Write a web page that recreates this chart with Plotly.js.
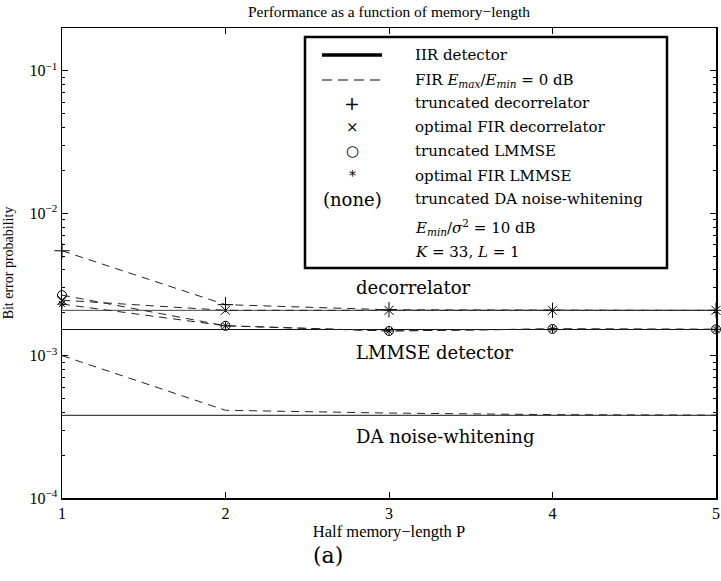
<!DOCTYPE html>
<html>
<head>
<meta charset="utf-8">
<script src="https://cdn.plot.ly/plotly-3.0.1.min.js"></script>
<style>html,body{margin:0;padding:0;background:#fff}</style>
</head>
<body>
<div id="chart" style="width:721px;height:581px"></div>
<script>
// Half memory-length P on the x axis
const halfMemory = [1, 2, 3, 4, 5];

// FIR detectors, Emax/Emin = 0 dB (bit error probability)
const truncDecorrelator  = [5.45e-3, 2.28e-3, 2.10e-3, 2.08e-3, 2.08e-3];
const optFirDecorrelator = [2.45e-3, 2.08e-3, 2.08e-3, 2.08e-3, 2.08e-3];
const truncLmmse         = [2.66e-3, 1.62e-3, 1.49e-3, 1.54e-3, 1.53e-3];
const optFirLmmse        = [2.30e-3, 1.62e-3, 1.49e-3, 1.54e-3, 1.53e-3];
const truncDaWhitening   = [1.00e-3, 4.13e-4, 3.95e-4, 3.85e-4, 3.82e-4];

// IIR detectors (independent of P)
const iirDecorrelator = 2.08e-3;
const iirLmmse        = 1.525e-3;
const iirDaWhitening  = 3.81e-4;

// Axis ticks
const xTicks = [1, 2, 3, 4, 5];
const yDecades = [1e-4, 1e-3, 1e-2, 1e-1];
const yDecadeLabels = ['10<sup>−4</sup>', '10<sup>−3</sup>', '10<sup>−2</sup>', '10<sup>−1</sup>'];

const yMinor = [];
yDecades.forEach(d => { for (let k = 2; k <= 9; k++) { if (k * d < 0.2) yMinor.push(k * d); } });

const SERIF = 'Liberation Serif, Times New Roman, serif';
const CM = 'DejaVu Serif, serif';

// plot area in pixels: x 62..716, y 28..498
const L = 62, R = 716, T = 28, B = 498;
const px = v => (v - L) / (R - L);
const py = v => (B - v) / (B - T);

const dashed = {color: '#222', width: 1, dash: '8px,6px'};
const markerBase = {color: '#000', line: {color: '#000', width: 1}};

const iirLine = (level, color) => ({
  x: [halfMemory[0], halfMemory[halfMemory.length - 1]],
  y: [level, level],
  mode: 'lines', line: {color: color, width: 1}, hoverinfo: 'skip'
});

const traces = [
  iirLine(iirDecorrelator, '#444'),
  iirLine(iirLmmse, '#111'),
  iirLine(iirDaWhitening, '#111'),
  {x: halfMemory, y: truncDaWhitening, mode: 'lines', line: dashed},
  {x: halfMemory, y: truncDecorrelator, mode: 'lines+markers', line: dashed,
   marker: Object.assign({symbol: 'cross-thin-open', size: 11}, markerBase)},
  {x: halfMemory, y: optFirDecorrelator, mode: 'lines+markers', line: dashed,
   marker: Object.assign({symbol: 'x-thin-open', size: 9}, markerBase)},
  {x: halfMemory, y: truncLmmse, mode: 'lines+markers', line: dashed,
   marker: Object.assign({symbol: 'circle-open', size: 9}, markerBase)},
  {x: halfMemory, y: optFirLmmse, mode: 'lines+markers', line: dashed,
   marker: Object.assign({symbol: 'asterisk-open', size: 7}, markerBase)}
];
traces.forEach(t => { t.cliponaxis = false; t.showlegend = false; });

// legend box contents
const legendRows = [
  {sym: null, text: 'IIR detector', y: 55},
  {sym: null, text: 'FIR <i>E</i><sub><i>max</i></sub>/<i>E</i><sub><i>min</i></sub> = 0 dB', y: 80},
  {sym: '+', size: 19, text: 'truncated decorrelator', y: 103},
  {sym: '×', size: 15, text: 'optimal FIR decorrelator', y: 127},
  {sym: '○', size: 15, text: 'truncated LMMSE', y: 151},
  {sym: '*', size: 14, text: 'optimal FIR LMMSE', y: 176},
  {sym: '(none)', size: 18, text: 'truncated DA noise-whitening', y: 199},
  {sym: null, text: '<i>E</i><sub><i>min</i></sub>/<i>σ</i><sup>2</sup> = 10 dB', y: 227},
  {sym: null, text: '<i>K</i> = 33, <i>L</i> = 1', y: 252}
];

const annotations = [];
legendRows.forEach(r => {
  annotations.push({xref: 'paper', yref: 'paper', x: px(413), y: py(r.y), xanchor: 'left', yanchor: 'middle',
    text: r.text, showarrow: false, font: {family: CM, size: 15, color: '#000'}});
  if (r.sym) {
    annotations.push({xref: 'paper', yref: 'paper', x: px(352), y: py(r.y), xanchor: 'center', yanchor: 'middle',
      text: r.sym, showarrow: false, font: {family: CM, size: r.size, color: '#000'}});
  }
});

// curve labels inside the plot
[
  {text: 'decorrelator', y: 287},
  {text: 'LMMSE detector', y: 352},
  {text: 'DA noise-whitening', y: 436}
].forEach(l => annotations.push({xref: 'paper', yref: 'paper', x: px(354), y: py(l.y),
  xanchor: 'left', yanchor: 'middle', text: l.text, showarrow: false,
  font: {family: CM, size: 18, color: '#000'}}));

// panel tag
annotations.push({xref: 'paper', yref: 'paper', x: px(328), y: py(555), xanchor: 'center', yanchor: 'middle',
  text: '(a)', showarrow: false, font: {family: CM, size: 22, color: '#000'}});

const shapes = [
  {type: 'rect', xref: 'paper', yref: 'paper', x0: px(305), x1: px(667), y0: py(268), y1: py(37),
   line: {color: '#000', width: 2.5}, fillcolor: '#fff', layer: 'above'},
  {type: 'line', xref: 'paper', yref: 'paper', x0: px(322), x1: px(382), y0: py(55), y1: py(55),
   line: {color: '#000', width: 3.5}},
  {type: 'line', xref: 'paper', yref: 'paper', x0: px(322), x1: px(382), y0: py(80), y1: py(80),
   line: {color: '#000', width: 1, dash: '10px,6px'}}
];

const layout = {
  width: 721, height: 581,
  margin: {l: L, r: 721 - R, t: T, b: 581 - B, pad: 0},
  paper_bgcolor: '#fff', plot_bgcolor: '#fff',
  showlegend: false,
  title: {text: 'Performance as a function of memory−length', font: {family: SERIF, size: 15.5, color: '#000'},
          x: 0.5, xref: 'paper', y: 1 - 12 / 581, yref: 'container', yanchor: 'middle'},
  xaxis: {
    type: 'linear', range: [1, 5], tickmode: 'array', tickvals: xTicks, ticktext: xTicks.map(String),
    ticks: 'inside', ticklen: 6, tickwidth: 1, tickcolor: '#000',
    showline: true, linecolor: '#000', linewidth: 1.5, mirror: 'ticks',
    showgrid: false, zeroline: false,
    tickfont: {family: SERIF, size: 16, color: '#000'},
    title: {text: 'Half memory−length P', font: {family: SERIF, size: 16.5, color: '#000'}, standoff: 0}
  },
  yaxis: {
    type: 'log', range: [-4, Math.log10(0.2)], tickmode: 'array', tickvals: yDecades, ticktext: yDecadeLabels,
    ticks: 'inside', ticklen: 6, tickwidth: 1, tickcolor: '#000',
    minor: {tickmode: 'array', tickvals: yMinor, ticks: 'inside', ticklen: 3, tickwidth: 1, tickcolor: '#000', showgrid: false},
    showline: true, linecolor: '#000', linewidth: 1.5, mirror: 'ticks',
    showgrid: false, zeroline: false,
    tickfont: {family: SERIF, size: 16, color: '#000'},
    title: {text: 'Bit error probability', font: {family: SERIF, size: 14, color: '#000'}, standoff: 12}
  },
  annotations: annotations,
  shapes: shapes
};

Plotly.newPlot('chart', traces, layout, {displayModeBar: false, staticPlot: true});
</script>
</body>
</html>
